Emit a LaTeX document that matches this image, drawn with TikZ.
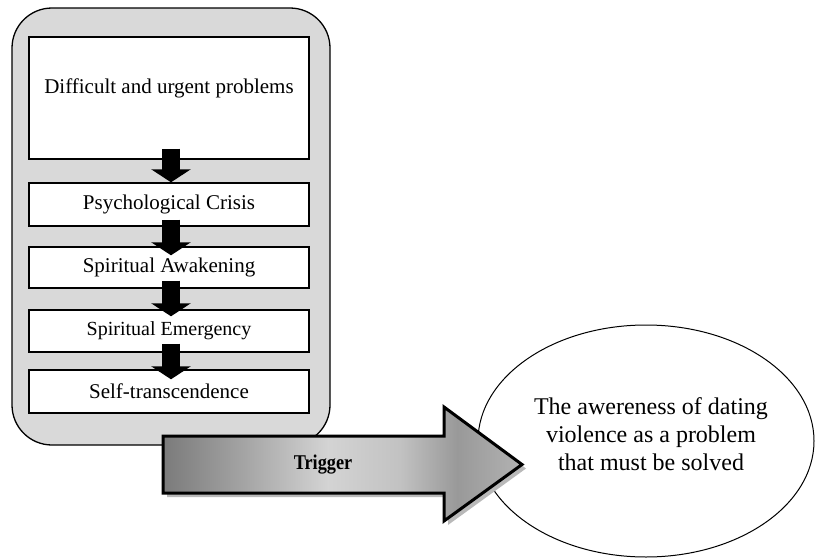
\documentclass[tikz,border=0pt]{standalone}
\usepackage{fontspec}
\setmainfont{Liberation Serif}
\usetikzlibrary{arrows.meta,shadows,shapes.geometric}
\pgfdeclarehorizontalshading{trigshade}{100bp}{color(0bp)=(black!52); color(25bp)=(black!52); color(36bp)=(black!36); color(48bp)=(black!17); color(58bp)=(black!24); color(66bp)=(black!40); color(75bp)=(black!30); color(100bp)=(black!30)}
\begin{document}
\begin{tikzpicture}[x=1pt,y=-1pt,
  container/.style={draw=black, line width=1.3pt, fill=gray!30, rounded corners=40pt,
    minimum width=318pt, minimum height=437pt, inner sep=0pt},
  stagebox/.style={draw=black, line width=1.4pt, fill=white, minimum width=280pt,
    inner sep=0pt, font=\fontsize{21}{25}\selectfont},
  blk/.style={line width=18.5pt, -{Triangle[width=39pt,length=13pt]}},
  goal/.style={ellipse, draw=black, line width=1pt, fill=white, minimum width=336pt,
    minimum height=232pt, inner sep=0pt},
  goaltext/.style={align=center, font=\fontsize{24}{28}\selectfont},
  trig/.style={draw=black, line width=3pt, line join=miter,
    shading=trigshade, shading angle=0,
    drop shadow={shadow xshift=4pt, shadow yshift=-4pt, fill=gray!55, opacity=1}}
]
\useasboundingbox (0,0) rectangle (815,560);
\node[container] (cont) at (171,226.5) {};
\node[stagebox, minimum height=122pt] (b1) at (169,98) {};
\node[stagebox, anchor=center] (b1t) at ([yshift=10pt]b1.center) [draw=none, fill=none, minimum width=0pt] {Difficult and urgent problems};
\node[stagebox, minimum height=43pt] (b2) at (169,204.5) {Psychological Crisis};
\node[stagebox, minimum height=41pt] (b3) at (169,267.5) {Spiritual Awakening};
\node[stagebox, minimum height=42pt, font=\fontsize{20}{24}\selectfont] (b4) at (169,331) {Spiritual Emergency};
\node[stagebox, minimum height=43pt] (b5) at (169,391.5) {Self-transcendence};
\draw[blk] ([xshift=2pt,yshift=11pt]b1.south) -- ([xshift=2pt]b2.north);
\draw[blk] ([xshift=2pt,yshift=7pt]b2.south) -- ([xshift=2pt,yshift=-9pt]b3.north);
\draw[blk] ([xshift=2pt,yshift=8pt]b3.south) -- ([xshift=2pt,yshift=-7pt]b4.north);
\draw[blk] ([xshift=2pt,yshift=9pt]b4.south) -- ([xshift=2pt,yshift=-10pt]b5.north);
\node[goal] (aw) at (646,441) {};
\node[goaltext] (awt) at ([xshift=5pt,yshift=7pt]aw.center) {The awereness of dating\\violence as a problem\\that must be solved};
\path[trig] (163,436) -- (444,436) -- (444,407) -- (522,464.5) -- (444,521) -- (444,493) -- (163,493) -- cycle;
\node[font=\fontsize{21}{25}\selectfont\bfseries] (tg) at (323,465) {\scalebox{0.87}[1]{Trigger}};
\end{tikzpicture}
\end{document}
